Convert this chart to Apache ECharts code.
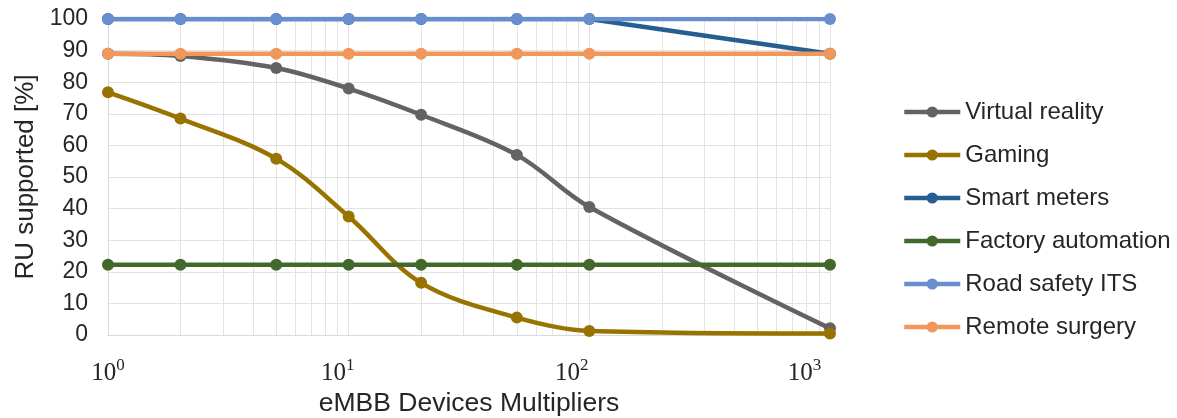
<!DOCTYPE html>
<html><head><meta charset="utf-8">
<script src="https://cdn.jsdelivr.net/npm/echarts@6/dist/echarts.min.js"></script>
<style>html,body{margin:0;padding:0;background:#fff}#c{width:1177px;height:418px}</style>
</head><body><div id="c"></div>
<script>
const multipliers = [1, 2, 5, 10, 20, 50, 100, 1000];
const virtualReality = [89, 88.3, 84.5, 78, 69.7, 57, 40.5, 2.1];
const gaming = [76.8, 68.5, 55.8, 37.5, 16.5, 5.5, 1.3, 0.5];
const smartMeters = [100, 100, 100, 100, 100, 100, 100, 89];
const factoryAutomation = [22.2, 22.2, 22.2, 22.2, 22.2, 22.2, 22.2, 22.2];
const roadSafetyITS = [100, 100, 100, 100, 100, 100, 100, 100];
const remoteSurgery = [89, 89, 89, 89, 89, 89, 89, 89];
const seriesNames = ['Virtual reality', 'Gaming', 'Smart meters', 'Factory automation', 'Road safety ITS', 'Remote surgery'];
const seriesColors = ['#636363', '#997300', '#255e91', '#43682b', '#698ed0', '#f1975a'];
const seriesSmooth = [0.35, 0.35, false, 0.35, 0.35, 0.35];
const minorGridValues = [2,3,4,5,6,7,8,9,20,30,40,50,60,70,80,90,200,300,400,500,600,700,800,900];
const yTicks = [0,10,20,30,40,50,60,70,80,90,100];

const allValues = [virtualReality, gaming, smartMeters, factoryAutomation, roadSafetyITS, remoteSurgery];
const chart = echarts.init(document.getElementById('c'));
const gridColor = '#e3e3e3';
const txt = '#262626';
const sans = 'Liberation Sans, Arial';
const serif = 'Liberation Serif, Times New Roman';
const series = allValues.map((vals, i) => ({
  name: seriesNames[i],
  type: 'line',
  smooth: seriesSmooth[i],
  data: multipliers.map((x, j) => [x, vals[j]]),
  symbol: 'circle',
  symbolSize: 12,
  lineStyle: { width: 4.5, color: seriesColors[i] },
  itemStyle: { color: seriesColors[i] },
  z: 3 + i
}));
series.unshift({
  name: '_grid',
  type: 'line',
  data: [],
  z: 1,
  silent: true,
  markLine: {
    z: 1,
    silent: true,
    animation: false,
    symbol: ['none', 'none'],
    label: { show: false },
    emphasis: { disabled: true },
    lineStyle: { color: gridColor, width: 1, type: 'solid' },
    data: minorGridValues.map(v => ({ xAxis: v }))
  }
});
const supStyle = pr => ({ fontFamily: serif, fontSize: 17, color: txt, padding: [0, pr, 15, 0] });
chart.setOption({
  animation: false,
  backgroundColor: '#fff',
  grid: { left: 108, right: 347, top: 19, bottom: 83, containLabel: false, outerBoundsMode: 'none' },
  legend: {
    orient: 'vertical',
    left: 902,
    top: 100,
    padding: 0,
    itemWidth: 56,
    itemHeight: 14,
    itemGap: 19,
    data: seriesNames,
    lineStyle: { width: 4.5 },
    textStyle: { fontFamily: sans, fontSize: 24, color: txt }
  },
  xAxis: {
    type: 'log',
    logBase: 10,
    min: 1,
    max: 1000,
    name: 'eMBB Devices Multipliers',
    nameLocation: 'middle',
    nameGap: 53,
    nameTextStyle: { fontFamily: sans, fontSize: 26.5, color: txt },
    axisLine: { show: true, lineStyle: { color: '#d9d9d9', width: 1 } },
    axisTick: { show: false },
    splitLine: { show: true, lineStyle: { color: gridColor, width: 1 } },
    axisLabel: {
      margin: 22,
      formatter: v => { const e = Math.round(Math.log10(v)); return '{b|10}{s' + e + '|' + e + '}'; },
      rich: {
        b: { fontFamily: serif, fontSize: 25, color: txt },
        s0: supStyle(0),
        s1: supStyle(22),
        s2: supStyle(35),
        s3: supStyle(51)
      }
    }
  },
  yAxis: {
    type: 'value',
    min: yTicks[0],
    max: yTicks[yTicks.length - 1],
    interval: 10,
    name: 'RU supported [%]',
    nameLocation: 'middle',
    nameGap: 68,
    nameTextStyle: { fontFamily: sans, fontSize: 26, color: txt },
    axisLine: { show: true, lineStyle: { color: '#d9d9d9', width: 1 } },
    axisTick: { show: false },
    splitLine: { show: true, lineStyle: { color: gridColor, width: 1 } },
    axisLabel: { margin: 20, fontFamily: sans, fontSize: 23, color: txt }
  },
  series: series
});
</script></body></html>
